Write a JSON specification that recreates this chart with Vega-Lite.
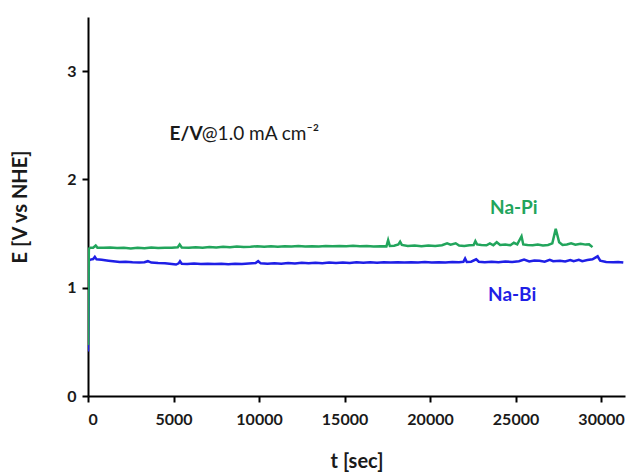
{
  "$schema": "https://vega.github.io/schema/vega-lite/v6.json",
  "width": 537,
  "height": 379,
  "autosize": {"type": "none"},
  "padding": {"left": 88, "top": 17, "right": 4, "bottom": 79},
  "background": "white",
  "config": {
    "view": {"stroke": null},
    "font": "Lato",
    "axis": {
      "domainColor": "black", "domainWidth": 2, "tickColor": "black", "tickWidth": 2, "tickSize": 6,
      "grid": false, "labelFont": "Lato", "labelFontSize": 16, "labelFontWeight": "bold", "labelColor": "#1a1a1a",
      "titleFont": "Lato", "titleFontSize": 20, "titleFontWeight": "bold", "titleColor": "#1a1a1a"
    }
  },
  "datasets": {
    "pi": [
      {"t":0,"E":0.47},{"t":50,"E":1.36},{"t":150,"E":1.37},{"t":300,"E":1.37},{"t":450,"E":1.39},{"t":550,"E":1.37},
      {"t":900,"E":1.368},{"t":1300,"E":1.372},{"t":1700,"E":1.366},{"t":2100,"E":1.37},{"t":2500,"E":1.362},{"t":2900,"E":1.368},
      {"t":3300,"E":1.365},{"t":3700,"E":1.372},{"t":4100,"E":1.366},{"t":4500,"E":1.37},{"t":4900,"E":1.368},{"t":5250,"E":1.374},
      {"t":5360,"E":1.40},{"t":5480,"E":1.372},{"t":5900,"E":1.368},{"t":6300,"E":1.374},{"t":6700,"E":1.37},{"t":7100,"E":1.376},
      {"t":7500,"E":1.372},{"t":7900,"E":1.378},{"t":8300,"E":1.374},{"t":8700,"E":1.38},{"t":9100,"E":1.376},{"t":9500,"E":1.378},
      {"t":9900,"E":1.383},{"t":10300,"E":1.378},{"t":10700,"E":1.382},{"t":11100,"E":1.378},{"t":11500,"E":1.384},{"t":11900,"E":1.38},
      {"t":12300,"E":1.385},{"t":12700,"E":1.38},{"t":13100,"E":1.384},{"t":13500,"E":1.38},{"t":13900,"E":1.386},{"t":14300,"E":1.382},
      {"t":14700,"E":1.386},{"t":15100,"E":1.382},{"t":15500,"E":1.387},{"t":15900,"E":1.384},{"t":16300,"E":1.386},{"t":16700,"E":1.38},
      {"t":17100,"E":1.384},{"t":17450,"E":1.382},{"t":17550,"E":1.44},{"t":17650,"E":1.385},{"t":17900,"E":1.388},{"t":18150,"E":1.40},
      {"t":18250,"E":1.425},{"t":18350,"E":1.395},{"t":18700,"E":1.386},{"t":19100,"E":1.39},{"t":19500,"E":1.384},{"t":19900,"E":1.39},
      {"t":20300,"E":1.386},{"t":20700,"E":1.392},{"t":21000,"E":1.41},{"t":21200,"E":1.398},{"t":21500,"E":1.41},{"t":21700,"E":1.39},
      {"t":22000,"E":1.385},{"t":22300,"E":1.392},{"t":22550,"E":1.395},{"t":22650,"E":1.43},{"t":22750,"E":1.40},{"t":23000,"E":1.395},
      {"t":23300,"E":1.392},{"t":23500,"E":1.41},{"t":23700,"E":1.392},{"t":23900,"E":1.42},{"t":24100,"E":1.395},{"t":24400,"E":1.40},
      {"t":24700,"E":1.392},{"t":24900,"E":1.415},{"t":25100,"E":1.40},{"t":25350,"E":1.475},{"t":25450,"E":1.40},{"t":25700,"E":1.395},
      {"t":26000,"E":1.392},{"t":26300,"E":1.398},{"t":26600,"E":1.39},{"t":26900,"E":1.395},{"t":27150,"E":1.41},{"t":27350,"E":1.545},
      {"t":27550,"E":1.42},{"t":27750,"E":1.395},{"t":28000,"E":1.40},{"t":28250,"E":1.41},{"t":28500,"E":1.398},{"t":28800,"E":1.405},
      {"t":29100,"E":1.398},{"t":29300,"E":1.40},{"t":29500,"E":1.375}
    ],
    "bi": [
      {"t":0,"E":0.41},{"t":50,"E":1.25},{"t":150,"E":1.26},{"t":300,"E":1.265},{"t":400,"E":1.285},{"t":500,"E":1.262},
      {"t":800,"E":1.258},{"t":1200,"E":1.25},{"t":1600,"E":1.243},{"t":1850,"E":1.237},{"t":2200,"E":1.24},{"t":2600,"E":1.235},
      {"t":3000,"E":1.233},{"t":3300,"E":1.236},{"t":3500,"E":1.245},{"t":3700,"E":1.232},{"t":4100,"E":1.228},{"t":4500,"E":1.226},
      {"t":4900,"E":1.22},{"t":5150,"E":1.214},{"t":5300,"E":1.225},{"t":5380,"E":1.245},{"t":5480,"E":1.222},{"t":5800,"E":1.22},
      {"t":6200,"E":1.224},{"t":6600,"E":1.218},{"t":7000,"E":1.222},{"t":7400,"E":1.218},{"t":7800,"E":1.222},{"t":8200,"E":1.216},
      {"t":8600,"E":1.222},{"t":9000,"E":1.218},{"t":9400,"E":1.224},{"t":9800,"E":1.228},{"t":9950,"E":1.245},{"t":10100,"E":1.225},
      {"t":10500,"E":1.222},{"t":10900,"E":1.226},{"t":11300,"E":1.222},{"t":11700,"E":1.228},{"t":12100,"E":1.224},{"t":12500,"E":1.23},
      {"t":12900,"E":1.226},{"t":13300,"E":1.23},{"t":13700,"E":1.226},{"t":14100,"E":1.232},{"t":14500,"E":1.228},{"t":14900,"E":1.232},
      {"t":15300,"E":1.228},{"t":15700,"E":1.234},{"t":16100,"E":1.23},{"t":16500,"E":1.234},{"t":16900,"E":1.23},{"t":17300,"E":1.236},
      {"t":17700,"E":1.232},{"t":18100,"E":1.236},{"t":18500,"E":1.232},{"t":18900,"E":1.236},{"t":19300,"E":1.233},{"t":19700,"E":1.237},
      {"t":20100,"E":1.233},{"t":20500,"E":1.236},{"t":20900,"E":1.234},{"t":21300,"E":1.238},{"t":21700,"E":1.235},{"t":21950,"E":1.24},
      {"t":22050,"E":1.27},{"t":22150,"E":1.238},{"t":22400,"E":1.24},{"t":22700,"E":1.262},{"t":22850,"E":1.24},{"t":23200,"E":1.236},
      {"t":23600,"E":1.24},{"t":24000,"E":1.236},{"t":24400,"E":1.242},{"t":24800,"E":1.238},{"t":25200,"E":1.244},{"t":25500,"E":1.26},
      {"t":25800,"E":1.242},{"t":26100,"E":1.252},{"t":26400,"E":1.248},{"t":26700,"E":1.24},{"t":27000,"E":1.258},{"t":27200,"E":1.245},
      {"t":27600,"E":1.25},{"t":27900,"E":1.242},{"t":28200,"E":1.256},{"t":28400,"E":1.245},{"t":28700,"E":1.258},{"t":28900,"E":1.245},
      {"t":29200,"E":1.255},{"t":29500,"E":1.262},{"t":29800,"E":1.29},{"t":29950,"E":1.25},{"t":30300,"E":1.238},{"t":30700,"E":1.235},
      {"t":31000,"E":1.238},{"t":31300,"E":1.232}
    ],
    "notes": [
      {"t":4770,"E":2.42,"label":"E/V","kind":"head"},
      {"t":6650,"E":2.42,"label":"@1.0 mA cm⁻²","kind":"tail"},
      {"t":24900,"E":1.74,"label":"Na-Pi","kind":"pi"},
      {"t":24800,"E":0.93,"label":"Na-Bi","kind":"bi"}
    ]
  },
  "layer": [
    {
      "data": {"name": "bi"},
      "mark": {"type": "line", "color": "#1f1fe6", "strokeWidth": 2.5, "clip": true},
      "encoding": {
        "x": {"field": "t", "type": "quantitative", "scale": {"domain": [0, 31400], "nice": false},
              "axis": {"values": [0,5000,10000,15000,20000,25000,30000], "format": "d", "title": "t [sec]", "titlePadding": 24, "labelPadding": 9}},
        "y": {"field": "E", "type": "quantitative", "scale": {"domain": [0, 3.5], "nice": false},
              "axis": {"values": [0,1,2,3], "format": "d", "title": "E [V vs NHE]", "titlePadding": 36, "labelPadding": 6}}
      }
    },
    {
      "data": {"name": "pi"},
      "mark": {"type": "line", "color": "#22a55c", "strokeWidth": 2.5, "clip": true},
      "encoding": {"x": {"field": "t", "type": "quantitative"}, "y": {"field": "E", "type": "quantitative"}}
    },
    {
      "data": {"name": "notes"},
      "transform": [{"filter": "datum.kind === 'head'"}],
      "mark": {"type": "text", "align": "left", "baseline": "middle", "fontSize": 19, "fontWeight": "bold", "color": "#1a1a1a", "font": "Lato"},
      "encoding": {"x": {"field": "t", "type": "quantitative"}, "y": {"field": "E", "type": "quantitative"}, "text": {"field": "label"}}
    },
    {
      "data": {"name": "notes"},
      "transform": [{"filter": "datum.kind === 'tail'"}],
      "mark": {"type": "text", "align": "left", "baseline": "middle", "fontSize": 19, "fontWeight": "normal", "color": "#1a1a1a", "font": "Lato"},
      "encoding": {"x": {"field": "t", "type": "quantitative"}, "y": {"field": "E", "type": "quantitative"}, "text": {"field": "label"}}
    },
    {
      "data": {"name": "notes"},
      "transform": [{"filter": "datum.kind === 'pi'"}],
      "mark": {"type": "text", "align": "center", "baseline": "middle", "fontSize": 19, "fontWeight": "bold", "color": "#22a55c", "font": "Lato"},
      "encoding": {"x": {"field": "t", "type": "quantitative"}, "y": {"field": "E", "type": "quantitative"}, "text": {"field": "label"}}
    },
    {
      "data": {"name": "notes"},
      "transform": [{"filter": "datum.kind === 'bi'"}],
      "mark": {"type": "text", "align": "center", "baseline": "middle", "fontSize": 19, "fontWeight": "bold", "color": "#1f1fe6", "font": "Lato"},
      "encoding": {"x": {"field": "t", "type": "quantitative"}, "y": {"field": "E", "type": "quantitative"}, "text": {"field": "label"}}
    }
  ]
}
